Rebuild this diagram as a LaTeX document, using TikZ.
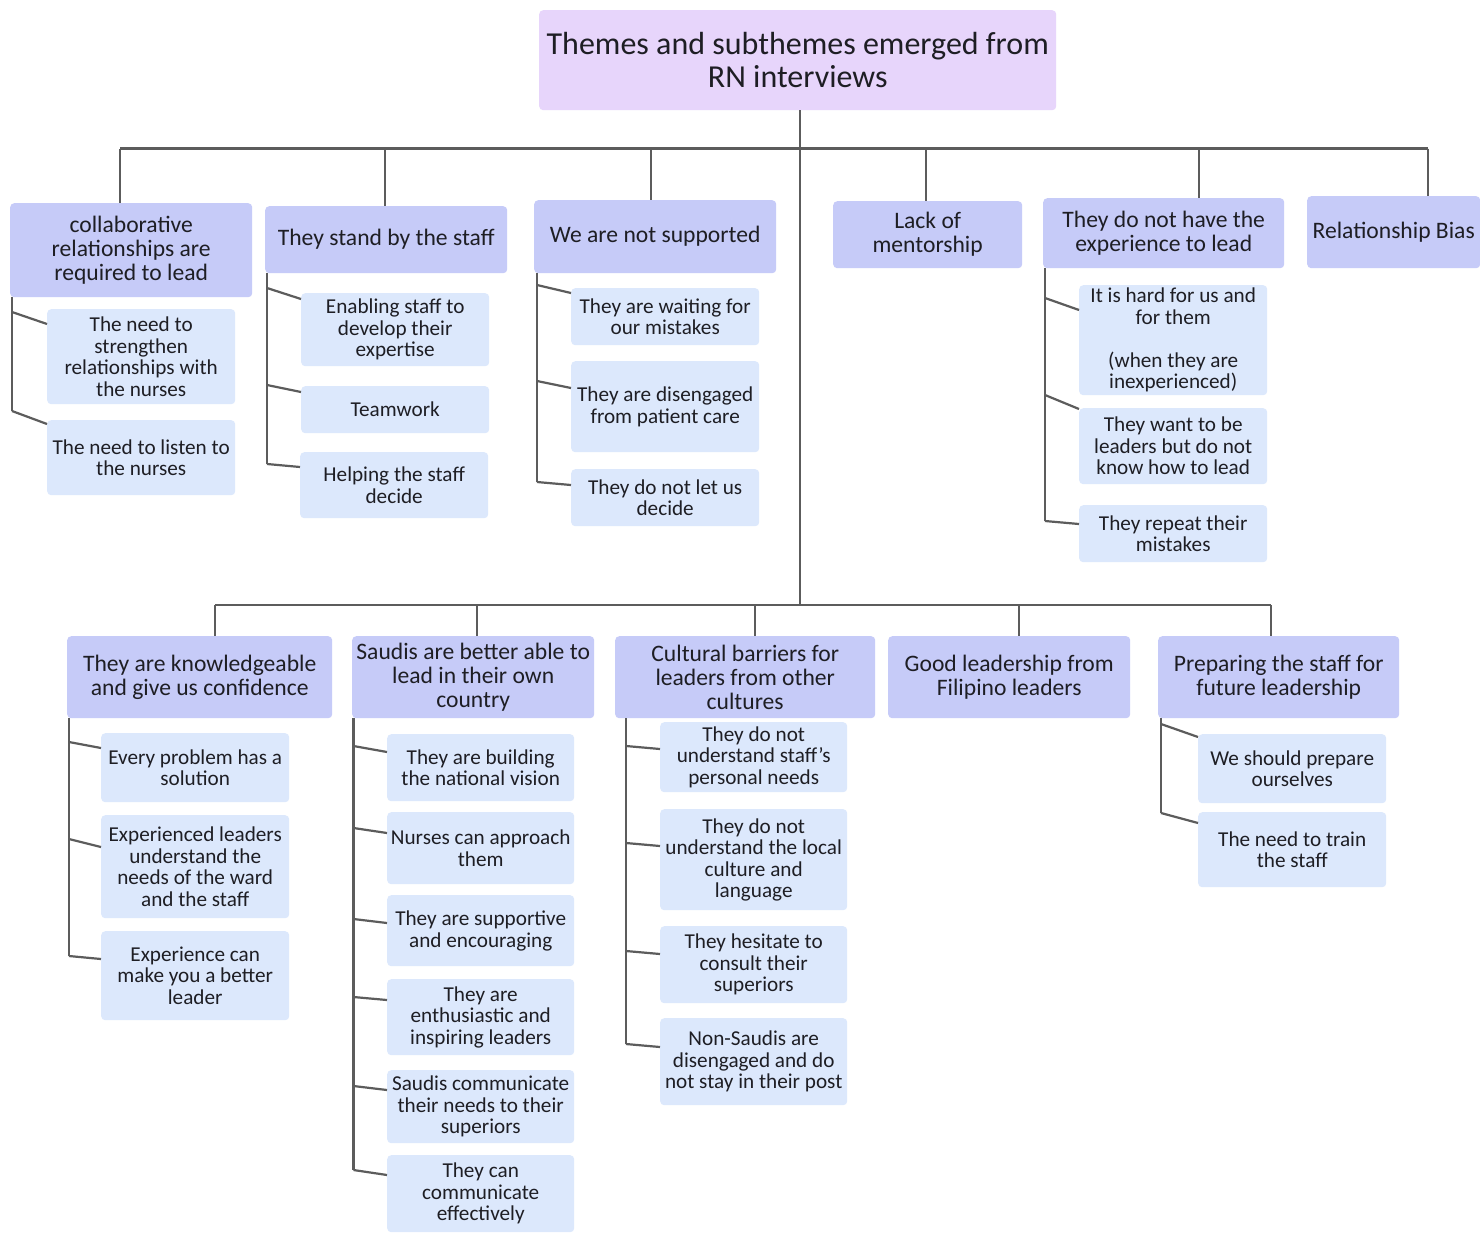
\documentclass[tikz,border=0pt]{standalone}
\usepackage{fontspec}
\setmainfont{Carlito}
\usetikzlibrary{calc}

\definecolor{rootfill}{HTML}{E7D5FB}
\definecolor{themefill}{HTML}{C6CBF8}
\definecolor{subfill}{HTML}{DCE8FC}
\definecolor{linegray}{HTML}{5C5C5C}
\definecolor{txt}{HTML}{1E1E24}

\tikzset{
  box/.style={draw=none, rounded corners=4pt, align=center, inner sep=0pt,
    text=txt, anchor=north west},
  rootbox/.style={box, fill=rootfill, font=\fontsize{32}{32.5}\selectfont},
  themebox/.style={box, fill=themefill, font=\fontsize{23.6}{24}\selectfont},
  subbox/.style={box, fill=subfill, font=\fontsize{21.2}{21.5}\selectfont},
  link/.style={draw=linegray, line width=2.2pt},
}

% \bx{style}{name}{x1}{y1}{x2}{y2}{text}: box from its top-left to bottom-right corner
\newcommand\bx[7]{\node[#1, minimum width={#5pt-#3pt}, minimum height={#6pt-#4pt}]
  (#2) at (#3,-#4) {#7};}
% \spine{parent}{x offset}{last child}{branch drop}: vertical line down the parent's left side
\newcommand\spine[4]{%
  \coordinate (#1-sp) at ([xshift=#2pt]#1.south west);
  \draw[link] (#1-sp) -- ($(#1-sp |- #3.north)+(0,{-(#4)})$);}
% \lnk{parent}{child}{branch drop}{attach drop}: short slanted line from spine to child
\newcommand\lnk[4]{\draw[link] ($(#1-sp |- #2.north)+(0,{-(#3)})$) -- ($(#2.north west)+(0,{-(#4)})$);}

\begin{document}
\begin{tikzpicture}[x=1pt,y=1pt]
\fill[white] (0,0) rectangle (1480,-1232);
\useasboundingbox (0,0) rectangle (1480,-1232);

% root
\bx{rootbox}{root}{539}{10}{1056}{110}{Themes and subthemes emerged from\\RN interviews}

% first row of themes
\bx{themebox}{t1}{10}{203}{252}{297}{collaborative\\relationships are\\required to lead}
\bx{themebox}{t2}{265}{206}{507}{273}{They stand by the staff}
\bx{themebox}{t3}{534}{200}{776}{273}{We are not supported}
\bx{themebox}{t4}{833}{201}{1022}{268}{Lack of\\mentorship}
\bx{themebox}{t5}{1043}{198}{1284}{268}{They do not have the\\experience to lead}
\bx{themebox}{t6}{1307}{196}{1480}{268}{Relationship Bias}

% subthemes, first row
\bx{subbox}{c11}{47}{309}{235}{404}{The need to\\strengthen\\relationships with\\the nurses}
\bx{subbox}{c12}{47}{420}{235}{495}{The need to listen to\\the nurses}
\bx{subbox}{c21}{301}{293}{489}{366}{Enabling staff to\\develop their\\expertise}
\bx{subbox}{c22}{301}{386}{489}{433}{Teamwork}
\bx{subbox}{c23}{300}{452}{488}{518}{Helping the staff\\decide}
\bx{subbox}{c31}{571}{288}{759}{345}{They are waiting for\\our mistakes}
\bx{subbox}{c32}{571}{361}{759}{452}{They are disengaged\\from patient care}
\bx{subbox}{c33}{571}{469}{759}{526}{They do not let us\\decide}
\bx{subbox}{c51}{1079}{285}{1267}{395}{It is hard for us and\\for them\\[21.5pt](when they are\\inexperienced)}
\bx{subbox}{c52}{1079}{408}{1267}{484}{They want to be\\leaders but do not\\know how to lead}
\bx{subbox}{c53}{1079}{505}{1267}{562}{They repeat their\\mistakes}

% second row of themes
\bx{themebox}{r1}{67}{636}{332}{718}{They are knowledgeable\\and give us confidence}
\bx{themebox}{r2}{352}{636}{594}{718}{Saudis are better able to\\lead in their own\\country}
\bx{themebox}{r3}{615}{636}{875}{718}{Cultural barriers for\\leaders from other\\cultures}
\bx{themebox}{r4}{888}{636}{1130}{718}{Good leadership from\\Filipino leaders}
\bx{themebox}{r5}{1158}{636}{1399}{718}{Preparing the staff for\\future leadership}

% subthemes, second row
\bx{subbox}{d1a}{101}{733}{289}{802}{Every problem has a\\solution}
\bx{subbox}{d1b}{101}{815}{289}{918}{Experienced leaders\\understand the\\needs of the ward\\and the staff}
\bx{subbox}{d1c}{101}{931}{289}{1020}{Experience can\\make you a better\\leader}
\bx{subbox}{d2a}{387}{734}{574}{801}{They are building\\the national vision}
\bx{subbox}{d2b}{387}{812}{574}{884}{Nurses can approach\\them}
\bx{subbox}{d2c}{387}{895}{574}{966}{They are supportive\\and encouraging}
\bx{subbox}{d2d}{387}{979}{574}{1055}{They are\\enthusiastic and\\inspiring leaders}
\bx{subbox}{d2e}{387}{1070}{574}{1143}{Saudis communicate\\their needs to their\\superiors}
\bx{subbox}{d2f}{387}{1155}{574}{1232}{They can\\communicate\\effectively}
\bx{subbox}{d3a}{660}{722}{847}{792}{They do not\\understand staff’s\\personal needs}
\bx{subbox}{d3b}{660}{809}{847}{910}{They do not\\understand the local\\culture and\\language}
\bx{subbox}{d3c}{660}{926}{847}{1003}{They hesitate to\\consult their\\superiors}
\bx{subbox}{d3d}{660}{1018}{847}{1105}{Non-Saudis are\\disengaged and do\\not stay in their post}
\bx{subbox}{d5a}{1198}{734}{1386}{803}{We should prepare\\ourselves}
\bx{subbox}{d5b}{1198}{812}{1386}{887}{The need to train\\the staff}

% trunk and buses
\coordinate (trunk) at ([xshift=2pt]root.south);
\draw[link] (trunk) -- (trunk |- 0,-605);
\draw[link] (120,-148.5) -- (1428,-148.5);
\draw[link] (215,-605) -- (1271,-605);

% stems to the first row
\draw[link] (120,-148.5) -- (120,-148.5 |- t1.north);
\draw[link] (385,-148.5) -- (385,-148.5 |- t2.north);
\draw[link] (651,-148.5) -- (651,-148.5 |- t3.north);
\draw[link] (926,-148.5) -- (926,-148.5 |- t4.north);
\draw[link] (1199,-148.5) -- (1199,-148.5 |- t5.north);
\draw[link] (1428,-148.5) -- (1428,-148.5 |- t6.north);

% stems to the second row
\draw[link] (215,-605) -- (215,-605 |- r1.north);
\draw[link] (477,-605) -- (477,-605 |- r2.north);
\draw[link] (755,-605) -- (755,-605 |- r3.north);
\draw[link] (1019,-605) -- (1019,-605 |- r4.north);
\draw[link] (1271,-605) -- (1271,-605 |- r5.north);

% subtheme connectors, first row
\spine{t1}{2}{c12}{-9}
\lnk{t1}{c11}{3}{15}
\lnk{t1}{c12}{-9}{4}
\spine{t2}{2}{c23}{12}
\lnk{t2}{c21}{-5}{6}
\lnk{t2}{c22}{-1}{6}
\lnk{t2}{c23}{12}{15}
\spine{t3}{3}{c33}{13}
\lnk{t3}{c31}{-3}{5}
\lnk{t3}{c32}{20}{27}
\lnk{t3}{c33}{13}{16}
\spine{t5}{2}{c53}{16}
\lnk{t5}{c51}{13}{25}
\lnk{t5}{c52}{-13}{1}
\lnk{t5}{c53}{16}{19}

% subtheme connectors, second row
\spine{r1}{2}{d1c}{25}
\lnk{r1}{d1a}{9}{15}
\lnk{r1}{d1b}{24}{32}
\lnk{r1}{d1c}{25}{28}
\spine{r2}{1.5}{d2f}{15}
\lnk{r2}{d2a}{12}{18}
\lnk{r2}{d2b}{16}{21}
\lnk{r2}{d2c}{24}{28}
\lnk{r2}{d2d}{18}{21}
\lnk{r2}{d2e}{16}{20}
\lnk{r2}{d2f}{15}{20}
\spine{r3}{11}{d3d}{26}
\lnk{r3}{d3a}{24}{27}
\lnk{r3}{d3b}{34}{37}
\lnk{r3}{d3c}{25}{28}
\lnk{r3}{d3d}{26}{29}
\spine{r5}{3}{d5b}{1}
\lnk{r5}{d5a}{-10}{3}
\lnk{r5}{d5b}{1}{11}
\end{tikzpicture}
\end{document}
